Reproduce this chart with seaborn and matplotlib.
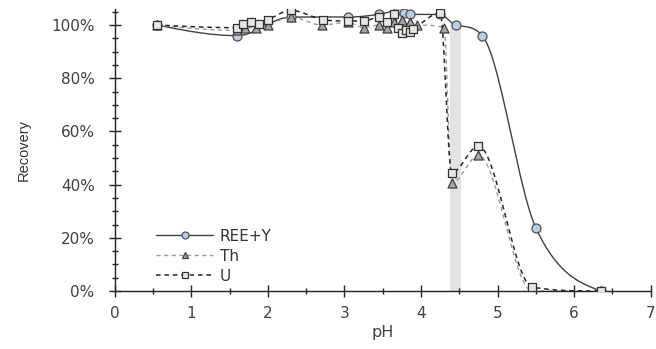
import numpy as np
import pandas as pd
import matplotlib
matplotlib.use("Agg")
import matplotlib.pyplot as plt
from matplotlib.lines import Line2D
from matplotlib.ticker import MultipleLocator, PercentFormatter
import seaborn as sns

# Recovery (%) versus pH
ree_ph = [0.55, 1.6, 2.3, 3.05, 3.45, 3.7, 3.78, 3.85, 4.25, 4.45, 4.8, 5.5, 6.35]
ree_rec = [100, 96, 103, 103, 104, 105.5, 104.5, 104, 104, 100, 96, 23.7, 0]

th_ph = [0.55, 1.6, 1.7, 1.85, 2.0, 2.3, 2.7, 3.05, 3.25, 3.45, 3.55, 3.65, 3.75, 3.85, 3.95,
         4.3, 4.4, 4.75, 5.45, 6.35]
th_rec = [100, 98, 99, 99, 100, 103, 100, 101, 99, 100, 99, 101, 102, 101, 100,
          99, 40.5, 51, 0, 0]

u_ph = [0.55, 1.6, 1.68, 1.78, 1.88, 2.0, 2.3, 2.72, 3.05, 3.25, 3.45, 3.55, 3.65, 3.7, 3.75,
        3.8, 3.85, 3.9, 4.25, 4.4, 4.75, 5.45, 6.35]
u_rec = [100, 99, 100.5, 101, 100.5, 102, 105.5, 102, 101.5, 101.5, 103, 101, 104, 99, 97,
         98, 97.5, 98.5, 104.5, 44.5, 54.5, 1.5, 0]

band_ph = (4.38, 4.52)


def smooth_path(x, y, n=24):
    """Cardinal cubic curve through the points, slope-limited so it never overshoots."""
    x = np.asarray(x, float)
    y = np.asarray(y, float)
    h = np.diff(x)
    d = np.diff(y) / h
    m = np.zeros_like(y)
    for i in range(1, len(x) - 1):
        if d[i - 1] * d[i] <= 0:
            m[i] = 0.0
        else:
            m[i] = (y[i + 1] - y[i - 1]) / (x[i + 1] - x[i - 1])
    # quadratic end conditions, kept on the side of the end chord
    m[0] = (3 * d[0] - m[1]) / 2
    m[-1] = (3 * d[-1] - m[-2]) / 2
    if m[0] * d[0] < 0:
        m[0] = 0.0
    if m[-1] * d[-1] < 0:
        m[-1] = 0.0
    for i in range(len(d)):
        if d[i] == 0:
            m[i] = m[i + 1] = 0.0
            continue
        a, b = m[i] / d[i], m[i + 1] / d[i]
        r = a * a + b * b
        if r > 9:
            tau = 3 / np.sqrt(r)
            m[i], m[i + 1] = tau * a * d[i], tau * b * d[i]
    xs, ys = [], []
    t = np.linspace(0, 1, n, endpoint=False)
    for i in range(len(x) - 1):
        h00 = 2 * t ** 3 - 3 * t ** 2 + 1
        h10 = t ** 3 - 2 * t ** 2 + t
        h01 = -2 * t ** 3 + 3 * t ** 2
        h11 = t ** 3 - t ** 2
        xs.extend(x[i] + t * h[i])
        ys.extend(h00 * y[i] + h10 * h[i] * m[i] + h01 * y[i + 1] + h11 * h[i] * m[i + 1])
    xs.append(x[-1])
    ys.append(y[-1])
    return pd.DataFrame({"pH": xs, "rec": np.clip(ys, 0, None) / 100})


sns.set_style("white")
plt.rcParams["font.family"] = ["DejaVu Sans"]

fig = plt.figure(figsize=(6.56, 3.49), dpi=100)
ax = fig.add_axes([0.175, 0.166, 0.817, 0.808])

ax.fill_betweenx([0, 1.0], band_ph[0], band_ph[1], color="#e3e3e3", lw=0, zorder=0)

styles = {
    "REE+Y": dict(x=ree_ph, y=ree_rec, lc="#404040", lw=1.0, dash=None,
                  marker="o", fc="#b9cde8", ec="#505050", s=42),
    "Th": dict(x=th_ph, y=th_rec, lc="#9a9a9a", lw=1.0, dash=(3, 2.5),
               marker="^", fc="#a6a6a6", ec="#404040", s=42),
    "U": dict(x=u_ph, y=u_rec, lc="#262626", lw=1.1, dash=(3, 2.5),
              marker="s", fc="#e6e6e6", ec="#333333", s=38),
}

handles = []
for name, st in styles.items():
    path = smooth_path(st["x"], st["y"])
    sns.lineplot(data=path, x="pH", y="rec", ax=ax, color=st["lc"], lw=st["lw"],
                 sort=False, estimator=None, zorder=2)
    line = ax.lines[-1]
    if st["dash"] is not None:
        line.set_dashes(st["dash"])
    pts = pd.DataFrame({"pH": st["x"], "rec": np.asarray(st["y"]) / 100})
    sns.scatterplot(data=pts, x="pH", y="rec", ax=ax, marker=st["marker"], s=st["s"],
                    color=st["fc"], edgecolor=st["ec"], linewidth=0.9, zorder=3)
    h = Line2D([0], [0], color=st["lc"], lw=st["lw"], marker=st["marker"],
               markersize=5, markerfacecolor=st["fc"],
               markeredgecolor=st["ec"], markeredgewidth=0.9)
    if st["dash"] is not None:
        h.set_dashes(st["dash"])
    handles.append(h)

ax.set_xlim(0, 7)
ax.set_ylim(0, 1.06)
ax.xaxis.set_major_locator(MultipleLocator(1))
ax.xaxis.set_minor_locator(MultipleLocator(0.5))
ax.yaxis.set_major_locator(MultipleLocator(0.2))
ax.yaxis.set_minor_locator(MultipleLocator(0.05))
ax.yaxis.set_major_formatter(PercentFormatter(1.0, decimals=0))

for side in ("top", "right"):
    ax.spines[side].set_visible(False)
for side in ("left", "bottom"):
    ax.spines[side].set_color("#222222")
    ax.spines[side].set_linewidth(1.0)

ax.tick_params(which="major", direction="inout", length=9, width=1.0, color="#222222",
               labelsize=11, labelcolor="#404040", pad=4)
ax.tick_params(which="minor", direction="inout", length=5, width=1.0, color="#222222")
ax.tick_params(axis="x", which="both", bottom=True, pad=6)
ax.tick_params(axis="y", which="both", left=True, pad=10)

ax.set_xlabel("pH", fontsize=11.5, color="#404040", labelpad=3)
ax.set_ylabel("Recovery", fontsize=10.5, color="#333333", labelpad=15,
              family=["Liberation Sans", "DejaVu Sans"])

ax.legend(handles, list(styles.keys()), loc="lower left", bbox_to_anchor=(0.066, 0.005),
          frameon=False, handlelength=3.7, fontsize=11, labelspacing=0.32,
          handletextpad=0.45, borderaxespad=0, labelcolor="#333333")

fig.savefig("out.png", dpi=100)
